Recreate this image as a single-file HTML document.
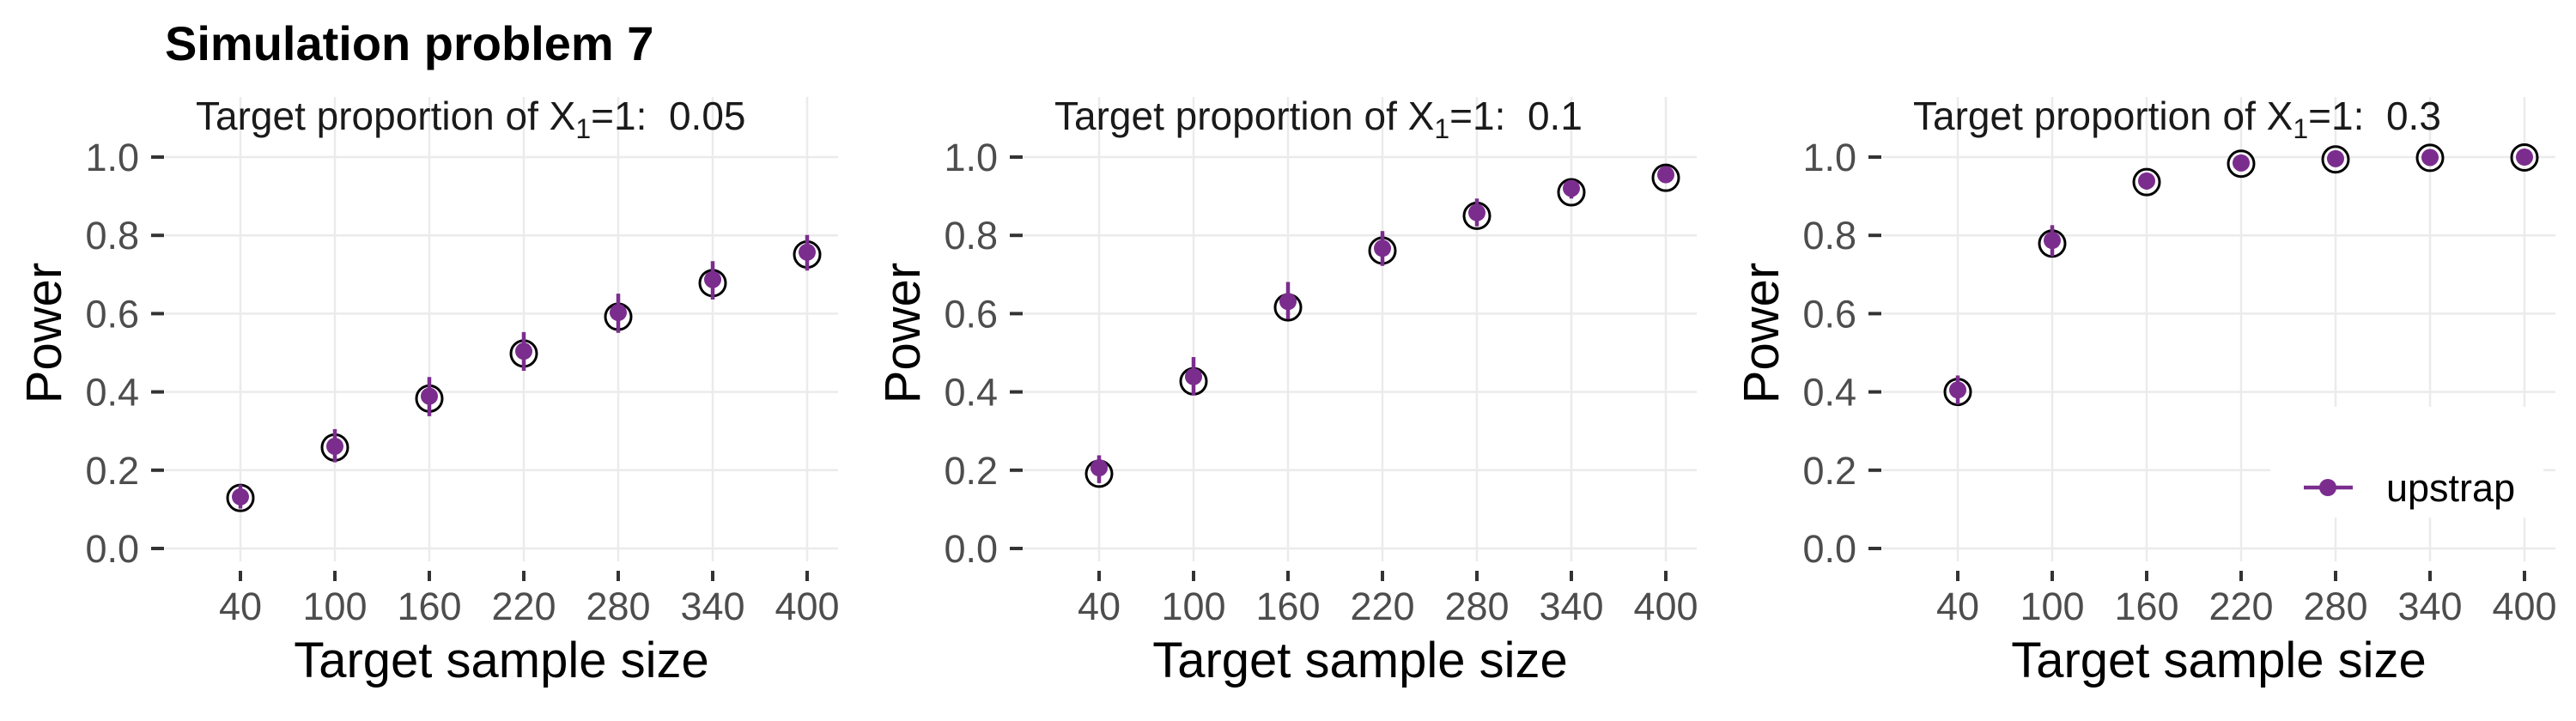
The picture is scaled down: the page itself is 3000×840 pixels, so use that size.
<!DOCTYPE html>
<html><head><meta charset="utf-8"><style>html,body{margin:0;padding:0;background:#fff}svg{display:block}</style></head>
<body>
<svg id="chart" width="3000" height="840" viewBox="0 0 3000 840" xmlns="http://www.w3.org/2000/svg" font-family="'Liberation Sans', Arial, sans-serif">
<text x="192" y="70" font-size="56" font-weight="bold" fill="#000">Simulation problem 7</text>
</svg>
<script>
const categories = [40, 100, 160, 220, 280, 340, 400];
const panelLabels = ["0.05", "0.1", "0.3"];
const yTicks = [0, 0.2, 0.4, 0.6, 0.8, 1.0];
const yTickLabels = ["0.0", "0.2", "0.4", "0.6", "0.8", "1.0"];
const truePower1 = [0.129, 0.258, 0.383, 0.498, 0.592, 0.678, 0.751];
const truePower2 = [0.191, 0.427, 0.616, 0.761, 0.850, 0.910, 0.947];
const truePower3 = [0.400, 0.779, 0.936, 0.983, 0.994, 0.998, 0.999];
const upMean1 = [0.132, 0.261, 0.389, 0.504, 0.603, 0.687, 0.757];
const upLow1 = [0.102, 0.220, 0.338, 0.454, 0.551, 0.636, 0.710];
const upHigh1 = [0.163, 0.305, 0.438, 0.553, 0.651, 0.734, 0.801];
const upMean2 = [0.206, 0.439, 0.631, 0.767, 0.858, 0.920, 0.955];
const upLow2 = [0.167, 0.391, 0.586, 0.722, 0.823, 0.894, 0.935];
const upHigh2 = [0.238, 0.489, 0.681, 0.811, 0.894, 0.935, 0.970];
const upMean3 = [0.405, 0.787, 0.939, 0.985, 0.996, 0.999, 1.000];
const upLow3 = [0.368, 0.746, 0.917, 0.975, 0.990, 0.996, 0.998];
const upHigh3 = [0.442, 0.826, 0.953, 0.992, 0.999, 1.000, 1.000];

const truePower = [truePower1, truePower2, truePower3];
const upMean = [upMean1, upMean2, upMean3];
const upLow = [upLow1, upLow2, upLow3];
const upHigh = [upHigh1, upHigh2, upHigh3];

const svg = document.getElementById('chart');
const NS = 'http://www.w3.org/2000/svg';
const PURPLE = '#7B2D8E';
function mk(tag, attrs, parent) {
  const e = document.createElementNS(NS, tag);
  for (const k in attrs) e.setAttribute(k, attrs[k]);
  (parent || svg).appendChild(e);
  return e;
}
const xMin = 40, xMax = 400;
for (let p = 0; p < 3; p++) {
  const off = p * 1000;
  const g = mk('g', {});
  
  
  const xs = v => off + 280 + (v - xMin) / (xMax - xMin) * 660;
  const ys = v => 639 - v * 456;
  // grid
  yTicks.forEach((t, i) => {
    const l = mk('line', {x1: off + 192, x2: off + 976, y1: ys(t), y2: ys(t), stroke: '#ebebeb', 'stroke-width': 2.5}, g);
    
    
    const tk = mk('line', {x1: off + 176, x2: off + 191, y1: ys(t), y2: ys(t), stroke: '#333', 'stroke-width': 4}, g);
    
    
    const tx = mk('text', {x: off + 162, y: ys(t) + 16, 'font-size': 45, fill: '#4d4d4d', 'text-anchor': 'end'}, g);
    tx.textContent = yTickLabels[i];
    
    
  });
  categories.forEach(c => {
    const l = mk('line', {x1: xs(c), x2: xs(c), y1: 113, y2: 654, stroke: '#ebebeb', 'stroke-width': 2.5}, g);
    
    
    const tk = mk('line', {x1: xs(c), x2: xs(c), y1: 665, y2: 677, stroke: '#333', 'stroke-width': 4}, g);
    
    
    const tx = mk('text', {x: xs(c), y: 722, 'font-size': 45, fill: '#4d4d4d', 'text-anchor': 'middle'}, g);
    tx.textContent = String(c);
    
    
  });
  // strip
  const st = mk('text', {x: off + 228, y: 151, 'font-size': 46, fill: '#1a1a1a'}, g);
  st.innerHTML = 'Target proportion of X<tspan font-size="32" dy="10">1</tspan><tspan dy="-10">=1:  ' + panelLabels[p] + '</tspan>';
  st.setAttribute('xml:space', 'preserve');
  st.style.whiteSpace = 'pre';
  
  
  // axis titles
  const xt = mk('text', {x: off + 584, y: 789, 'font-size': 58, fill: '#000', 'text-anchor': 'middle'}, g);
  xt.textContent = 'Target sample size';
  
  
  const yt = mk('text', {x: 0, y: 0, 'font-size': 58, fill: '#000', 'text-anchor': 'middle', transform: 'translate(' + (off + 71) + ',388) rotate(-90)'}, g);
  yt.textContent = 'Power';
  
  
  if (p === 2) {
    const lb = mk('rect', {x: 2644, y: 474, width: 318, height: 129, fill: '#fff'}, g);
    
    
  }
  // marks
  categories.forEach((c, i) => {
    const circ = mk('circle', {cx: xs(c), cy: ys(truePower[p][i]), r: 15, fill: 'none', stroke: '#000', 'stroke-width': 3}, g);
    
    
    const eb = mk('line', {x1: xs(c), x2: xs(c), y1: ys(upLow[p][i]), y2: ys(upHigh[p][i]), stroke: PURPLE, 'stroke-width': 4.5}, g);
    
    
    const dot = mk('circle', {cx: xs(c), cy: ys(upMean[p][i]), r: 10, fill: PURPLE}, g);
    
    
  });
}
// legend
const lg = mk('g', {});


mk('line', {x1: 2683, x2: 2740, y1: 568, y2: 568, stroke: PURPLE, 'stroke-width': 4.5}, lg);
mk('circle', {cx: 2711, cy: 568, r: 10, fill: PURPLE}, lg);
const lt = mk('text', {x: 2779, y: 584, 'font-size': 45, fill: '#000'}, lg);
lt.textContent = 'upstrap';
</script>
</body></html>
